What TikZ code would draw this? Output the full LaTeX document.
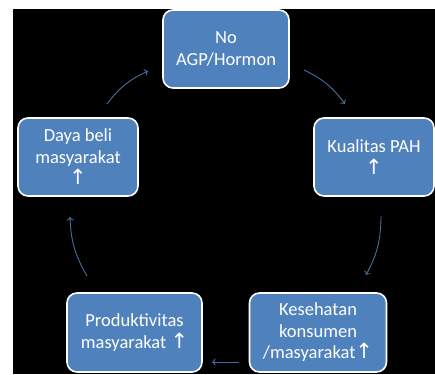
\documentclass[tikz,border=0pt]{standalone}
\usepackage{fontspec}
\setmainfont{Carlito}
\newfontfamily\arrfont{DejaVu Sans}
\usetikzlibrary{arrows.meta}
\definecolor{boxblue}{RGB}{79,129,189}
\definecolor{arrblue}{RGB}{70,110,158}
\newcommand{\upar}{{\arrfont\fontsize{21}{21}\selectfont ↑}}
\tikzset{
  cyclebox/.style={draw=white, line width=1.6pt, fill=boxblue, rounded corners=10pt,
    text=white, align=center, font=\fontsize{18.5}{21.5}\selectfont, inner sep=2pt},
  cyclearrow/.style={draw=arrblue, line width=0.9pt, -{To[length=3.5pt,width=7pt]}},
}
\begin{document}
\begin{tikzpicture}[x=1pt,y=1pt]
\useasboundingbox (0,0) rectangle (435,374);
\fill[white] (0,0) rectangle (435,374);
\fill[black] (13,0) rectangle (435,365);
% nodes (y = 374 - pixel y)
\node[cyclebox, minimum width=126pt, minimum height=78pt] (agp) at (226,325) {No\\AGP/Hormon};
\node[cyclebox, minimum width=120pt, minimum height=78pt] (pah) at (374,217) {Kualitas PAH\\\upar};
\node[cyclebox, minimum width=137pt, minimum height=79pt] (kes) at (318,41.5) {Kesehatan\\konsumen\\/masyarakat\upar};
\node[cyclebox, minimum width=135pt, minimum height=79pt] (prod) at (134.5,41.5) {Produktivitas\\masyarakat \upar};
\node[cyclebox, minimum width=120pt, minimum height=78pt] (daya) at (78,217) {Daya beli\\masyarakat\\\upar};
% arrow end points
\coordinate (a1s) at (107,270);
\coordinate (a1e) at (148,303);
\coordinate (a2s) at (304,304);
\coordinate (a2e) at (345,270);
\coordinate (a3s) at (381,158);
\coordinate (a3e) at (366,99);
\coordinate (a4s) at (239,12);
\coordinate (a4e) at (212,12);
\coordinate (a5s) at (87,98);
\coordinate (a5e) at (70,157);
\draw[cyclearrow] (a1s) to[bend left=14] (a1e);
\draw[cyclearrow] (a2s) to[bend left=14] (a2e);
\draw[cyclearrow] (a3s) to[bend left=14] (a3e);
\draw[cyclearrow] (a4s) -- (a4e);
\draw[cyclearrow] (a5s) to[bend left=14] (a5e);
\end{tikzpicture}
\end{document}
